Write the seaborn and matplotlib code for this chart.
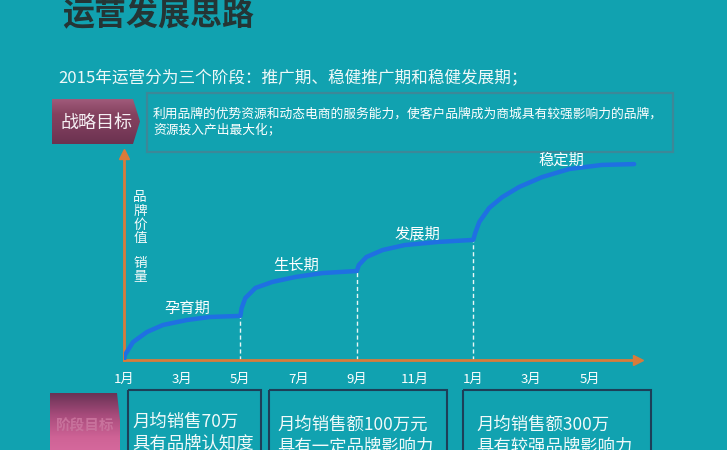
import numpy as np
import pandas as pd
import matplotlib
matplotlib.use("Agg")
import matplotlib.pyplot as plt
from matplotlib.patches import Polygon, Rectangle
from matplotlib.colors import LinearSegmentedColormap
import seaborn as sns

# ---------------- data ----------------
curve_month = [1.00, 1.03, 1.31, 1.79, 2.34, 3.16, 3.96, 5.00,
               5.04, 5.17, 5.52, 6.10, 6.89, 7.82, 9.00,
               9.07, 9.33, 9.89, 10.65, 11.78, 13.00,
               13.07, 13.21, 13.55, 14.00, 14.58, 15.37, 16.30, 17.43, 18.53]
curve_value = [0.0, 2.4, 8.7, 13.6, 17.0, 19.4, 20.9, 21.4,
               25.1, 30.1, 35.0, 37.9, 40.3, 42.2, 43.2,
               46.1, 50.0, 53.4, 55.8, 57.3, 58.3,
               61.7, 67.0, 73.8, 79.1, 84.0, 88.8, 92.7, 94.7, 95.1]
stage_months = [5.00, 9.00, 13.00]
phase_names = ["孕育期", "生长期", "发展期", "稳定期"]
tick_months = [1, 3, 5, 7, 9, 11, 13, 15, 17]
tick_labels = ["1月", "3月", "5月", "7月", "9月", "11月", "1月", "3月", "5月"]

title = "运营发展思路"
subtitle = "2015年运营分为三个阶段：推广期、稳健推广期和稳健发展期；"
strategy_tag = "战略目标"
strategy_lines = ["利用品牌的优势资源和动态电商的服务能力，使客户品牌成为商城具有较强影响力的品牌，",
                  "资源投入产出最大化；"]
stage_tag = "阶段目标"
goal_line1 = ["月均销售70万", "月均销售额100万元", "月均销售额300万"]
goal_line2 = ["具有品牌认知度", "具有一定品牌影响力", "具有较强品牌影响力"]
ylabel_parts = ["品牌价值", "销量"]

# ---------------- style ----------------
sns.set_style("white")
plt.rcParams['font.family'] = ['Noto Sans CJK SC', 'DejaVu Sans']

BG = '#11a2b0'
ORANGE = '#d97b3a'
BLUE = '#1f70e2'
W, H = 727, 450

fig = plt.figure(figsize=(W / 100, H / 100), dpi=100)
fig.patch.set_facecolor(BG)

# background / decoration axes in pixel coordinates
bg = fig.add_axes([0, 0, 1, 1])
bg.set_xlim(0, W)
bg.set_ylim(H, 0)
bg.axis('off')
bg.set_facecolor('none')

bg.text(62, 16, title, fontsize=23, fontweight='bold', color='#243535',
        ha='left', va='center')
bg.text(58, 79, subtitle, fontsize=12, color='#eef8f8', ha='left', va='center')


def gradient_poly(pts, colors):
    poly = Polygon(pts, closed=True, facecolor='none', edgecolor='none')
    bg.add_patch(poly)
    xs = [p[0] for p in pts]
    ys = [p[1] for p in pts]
    cmap = LinearSegmentedColormap.from_list('g', colors)
    grad = np.linspace(0, 1, 100).reshape(-1, 1)
    im = bg.imshow(grad, cmap=cmap, aspect='auto',
                   extent=(min(xs), max(xs), max(ys), min(ys)), origin='upper',
                   zorder=2)
    im.set_clip_path(poly)


# strategy tag (pentagon)
gradient_poly([(52, 99), (133, 99), (140, 121.5), (133, 144), (52, 144)],
              ['#a05a7a', '#85425f', '#7a3b5a', '#6b3250'])
bg.text(96, 123, strategy_tag, fontsize=13, color='#f4eef2',
        ha='center', va='center', zorder=3)

# strategy text box
bg.add_patch(Rectangle((147, 93), 526, 59, facecolor='none',
                       edgecolor='#3c8898', lw=1.6, zorder=2))
bg.text(153, 114, strategy_lines[0], fontsize=9.2, color='white',
        ha='left', va='center')
bg.text(153, 131, strategy_lines[1], fontsize=9.2, color='white',
        ha='left', va='center')

# stage goal tag
gradient_poly([(50, 393), (117, 393), (120, 420), (120, 460), (50, 460)],
              ['#6a3355', '#a84c7c', '#cf6396', '#d96ca0'])
bg.text(85, 426, stage_tag, fontsize=10.5, color='#c8729c', fontweight='bold',
        ha='center', va='center', zorder=3)

# goal boxes
box_x = [(128, 261), (269, 447), (463, 651)]
text_x = [132, 277, 476]
line1_y = [422, 425, 425]
for (bx0, bx1), tx, ty, l1, l2 in zip(box_x, text_x, line1_y, goal_line1, goal_line2):
    bg.add_patch(Rectangle((bx0, 390), bx1 - bx0, 80, facecolor='none',
                           edgecolor='#1d3f58', lw=1.5, zorder=2))
    bg.text(tx, ty, l1, fontsize=12.5, color='#f2fafa', ha='left', va='center')
    bg.text(tx, ty + 22, l2, fontsize=12.5, color='#f2fafa', ha='left', va='center')

# ---------------- chart axes ----------------
x0, x1 = 124, 638
y0, y1 = 360, 154
ax = fig.add_axes([x0 / W, (H - y0) / H, (x1 - x0) / W, (y0 - y1) / H])
ax.set_facecolor('none')
px_per_month = 29.1
ax.set_xlim(1, 1 + (x1 - x0) / px_per_month)
ax.set_ylim(0, 100)

df = pd.DataFrame({'month': curve_month, 'value': curve_value})
sns.lineplot(data=df, x='month', y='value', ax=ax, color=BLUE, lw=3.2,
             estimator=None, sort=False, solid_capstyle='round',
             solid_joinstyle='round', zorder=4)

lookup = dict(zip(curve_month, curve_value))
for m in stage_months:
    ax.plot([m, m], [0, lookup[m]], ls=(0, (3, 2)), color='#e8f6f6', lw=1.0, zorder=3)

phase_pos = [(3.16, 25.2), (6.91, 46.1), (11.10, 61.2), (16.02, 97.1)]
for name, (px, py) in zip(phase_names, phase_pos):
    ax.text(px, py, name, fontsize=11, color='white', ha='center', va='center', zorder=5)

ax.text(1.55, 82.5, "\n".join(ylabel_parts[0]), fontsize=9.8, color='#f4fafa',
        ha='center', va='top', linespacing=0.98)
ax.text(1.55, 50.5, "\n".join(ylabel_parts[1]), fontsize=9.8, color='#f4fafa',
        ha='center', va='top', linespacing=0.98)

for side in ['top', 'right']:
    ax.spines[side].set_visible(False)
for side in ['left', 'bottom']:
    ax.spines[side].set_color(ORANGE)
    ax.spines[side].set_linewidth(2.0)
    ax.spines[side].set_zorder(3)

ax.set_xticks(tick_months)
ax.set_xticklabels(tick_labels)
ax.set_yticks([])
ax.tick_params(axis='x', direction='in', length=11.5, width=1.6, color=ORANGE,
               pad=9, labelcolor='white', labelsize=9.5)
ax.set_xlabel('')
ax.set_ylabel('')

ax.plot([1], [0], marker='>', ms=7, color=ORANGE, transform=ax.transAxes,
        clip_on=False, zorder=5)
ax.plot([0], [1], marker='^', ms=7, color=ORANGE, transform=ax.transAxes,
        clip_on=False, zorder=5)

fig.savefig('out.png', dpi=100, facecolor=BG)
